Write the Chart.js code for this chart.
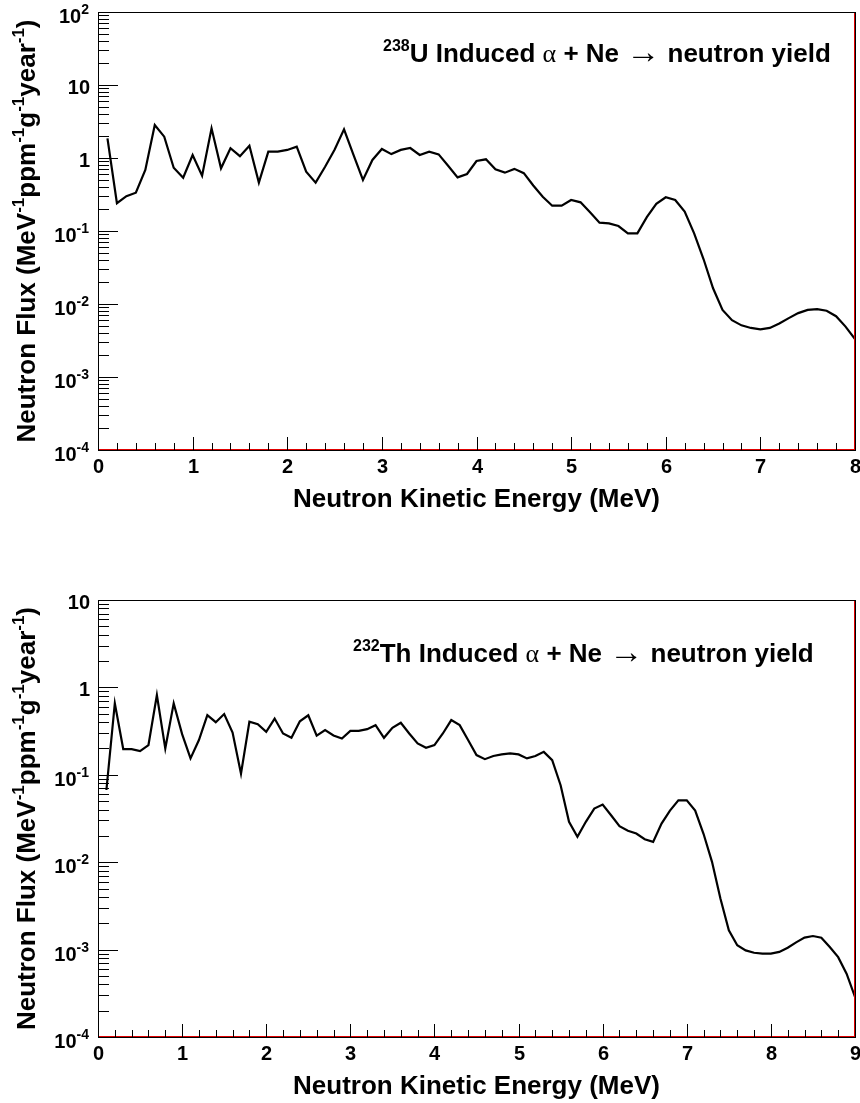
<!DOCTYPE html>
<html>
<head>
<meta charset="utf-8">
<title>Neutron yield spectra</title>
<script src="https://cdn.jsdelivr.net/npm/chart.js@4.4.0/dist/chart.umd.min.js"></script>
<style>
  html, body { margin: 0; padding: 0; background: #fff; }
  .pane { position: absolute; left: 0; width: 860px; }
  #u-pane { top: 0; height: 560px; }
  #th-pane { top: 560px; height: 543px; }
</style>
</head>
<body>
<div class="pane" id="u-pane"><canvas id="u-chart"></canvas></div>
<div class="pane" id="th-pane"><canvas id="th-chart"></canvas></div>
<script>
// 238U spectrum, bin centres in MeV and flux per MeV per ppm per g per year
const energyU = [
  0.1, 0.2, 0.3, 0.4, 0.5, 0.6, 0.7, 0.8, 0.9, 1.0,
  1.1, 1.2, 1.3, 1.4, 1.5, 1.6, 1.7, 1.8, 1.9, 2.0,
  2.1, 2.2, 2.3, 2.4, 2.5, 2.6, 2.7, 2.8, 2.9, 3.0,
  3.1, 3.2, 3.3, 3.4, 3.5, 3.6, 3.7, 3.8, 3.9, 4.0,
  4.1, 4.2, 4.3, 4.4, 4.5, 4.6, 4.7, 4.8, 4.9, 5.0,
  5.1, 5.2, 5.3, 5.4, 5.5, 5.6, 5.7, 5.8, 5.9, 6.0,
  6.1, 6.2, 6.3, 6.4, 6.5, 6.6, 6.7, 6.8, 6.9, 7.0,
  7.1, 7.2, 7.3, 7.4, 7.5, 7.6, 7.7, 7.8, 7.9, 8.0
];
const fluxU = [
  1.86, 0.24, 0.30, 0.335, 0.685, 2.83, 1.96, 0.736, 0.537, 1.10,
  0.573, 2.55, 0.722, 1.36, 1.06, 1.47, 0.46, 1.22, 1.22, 1.29,
  1.43, 0.65, 0.46, 0.76, 1.30, 2.47, 1.10, 0.50, 0.94, 1.33,
  1.13, 1.29, 1.37, 1.10, 1.22, 1.12, 0.785, 0.543, 0.604, 0.91,
  0.96, 0.70, 0.63, 0.71, 0.62, 0.42, 0.295, 0.222, 0.222, 0.266,
  0.247, 0.18, 0.13, 0.127, 0.117, 0.093, 0.093, 0.155, 0.235, 0.29,
  0.266, 0.184, 0.093, 0.041, 0.0164, 0.0083, 0.0060, 0.0051, 0.0047, 0.0045,
  0.0047, 0.0054, 0.0064, 0.0075, 0.0083, 0.0085, 0.0081, 0.0068, 0.0049, 0.0033
];

// 232Th spectrum
const energyTh = [
  0.1, 0.2, 0.3, 0.4, 0.5, 0.6, 0.7, 0.8, 0.9, 1.0,
  1.1, 1.2, 1.3, 1.4, 1.5, 1.6, 1.7, 1.8, 1.9, 2.0,
  2.1, 2.2, 2.3, 2.4, 2.5, 2.6, 2.7, 2.8, 2.9, 3.0,
  3.1, 3.2, 3.3, 3.4, 3.5, 3.6, 3.7, 3.8, 3.9, 4.0,
  4.1, 4.2, 4.3, 4.4, 4.5, 4.6, 4.7, 4.8, 4.9, 5.0,
  5.1, 5.2, 5.3, 5.4, 5.5, 5.6, 5.7, 5.8, 5.9, 6.0,
  6.1, 6.2, 6.3, 6.4, 6.5, 6.6, 6.7, 6.8, 6.9, 7.0,
  7.1, 7.2, 7.3, 7.4, 7.5, 7.6, 7.7, 7.8, 7.9, 8.0,
  8.1, 8.2, 8.3, 8.4, 8.5, 8.6, 8.7, 8.8, 8.9, 9.0
];
const fluxTh = [
  0.067, 0.656, 0.197, 0.197, 0.187, 0.219, 0.817, 0.20, 0.656, 0.292,
  0.154, 0.25, 0.482, 0.40, 0.496, 0.305, 0.103, 0.405, 0.38, 0.31,
  0.44, 0.297, 0.265, 0.41, 0.48, 0.28, 0.324, 0.282, 0.26, 0.318,
  0.318, 0.333, 0.37, 0.265, 0.345, 0.394, 0.297, 0.229, 0.204, 0.219,
  0.297, 0.423, 0.37, 0.25, 0.168, 0.151, 0.164, 0.171, 0.176, 0.171,
  0.154, 0.164, 0.183, 0.147, 0.076, 0.029, 0.0195, 0.029, 0.0411, 0.0457,
  0.0345, 0.0258, 0.0229, 0.0213, 0.0183, 0.0171, 0.0277, 0.039, 0.051, 0.051,
  0.039, 0.021, 0.0101, 0.00384, 0.00166, 0.00112, 0.00098, 0.00092, 0.0009, 0.0009,
  0.00094, 0.00105, 0.00121, 0.00137, 0.00143, 0.00137, 0.00107, 0.00082, 0.00053, 0.000287
];

// axis labels
const xTicksU = [0, 1, 2, 3, 4, 5, 6, 7, 8];
const xTicksTh = [0, 1, 2, 3, 4, 5, 6, 7, 8, 9];
const decadesU = [-4, -3, -2, -1, 0, 1, 2];
const decadesTh = [-4, -3, -2, -1, 0, 1];

const xTitle = 'Neutron Kinetic Energy (MeV)';
const yTitle = [['Neutron Flux (MeV', 'n'], ['-1', 's'], ['ppm', 'n'], ['-1', 's'],
                ['g', 'n'], ['-1', 's'], ['year', 'n'], ['-1', 's'], [')', 'n']];
const reaction = [[' Induced ', 'n'], ['\u03b1', 'g'], [' + Ne ', 'n'], ['\u2192', 'a'], [' neutron yield', 'n']];

const FONT = "'Liberation Sans', Arial, Helvetica, sans-serif";
const SYMFONT = "'Liberation Serif', 'DejaVu Serif', serif";

function pieceFont(kind, size, supRatio) {
  if (kind === 's') return `bold ${Math.round(size * supRatio)}px ${FONT}`;
  if (kind === 'g') return `${size}px ${SYMFONT}`;
  if (kind === 'a') return `${Math.round(size * 1.3)}px ${SYMFONT}`;
  return `bold ${size}px ${FONT}`;
}

// text with superscripts, drawn left to right from x (or ending at x)
function drawRun(ctx, pieces, x, y, size, align, supRatio = 0.62) {
  let total = 0;
  const widths = pieces.map(([t, k]) => {
    ctx.font = pieceFont(k, size, supRatio);
    const w = ctx.measureText(t).width;
    total += w;
    return w;
  });
  let cx = x;
  if (align === 'right') cx = x - total;
  if (align === 'center') cx = x - total / 2;
  ctx.textAlign = 'left';
  ctx.textBaseline = 'alphabetic';
  pieces.forEach(([t, k], i) => {
    ctx.font = pieceFont(k, size, supRatio);
    ctx.fillText(t, cx, k === 's' ? y - size * 0.42 : (k === 'a' ? y + size * 0.03 : y));
    cx += widths[i];
  });
}

function line(ctx, x1, y1, x2, y2) {
  ctx.beginPath();
  ctx.moveTo(x1, y1);
  ctx.lineTo(x2, y2);
  ctx.stroke();
}

// ROOT-style frame: inward ticks, red histogram edges, titles
const rootFrame = {
  id: 'rootFrame',
  afterDatasetsDraw(chart, args, opts) {
    const { ctx, chartArea: a, scales: { x, y } } = chart;
    ctx.save();
    ctx.fillStyle = '#000';
    ctx.strokeStyle = '#000';
    ctx.lineWidth = 1;

    // frame
    line(ctx, a.left + 0.5, a.top, a.left + 0.5, a.bottom + 1);
    line(ctx, a.left, a.top + 0.5, a.right + 1, a.top + 0.5);
    line(ctx, a.left, a.bottom + 0.5, a.right + 1, a.bottom + 0.5);
    line(ctx, a.right + 0.5, a.top, a.right + 0.5, a.bottom + 1);
    ctx.strokeStyle = '#e00000';
    line(ctx, a.left + 1, a.bottom - 0.5, a.right, a.bottom - 0.5);
    line(ctx, a.right - 0.5, a.top + 1, a.right - 0.5, a.bottom);
    ctx.strokeStyle = '#000';

    // x ticks: majors at each label, four minors in between
    opts.xTicks.forEach((v, i) => {
      const px = Math.round(x.getPixelForValue(v)) + 0.5;
      if (i > 0 && i < opts.xTicks.length - 1) line(ctx, px, a.bottom, px, a.bottom - 13);
      drawRun(ctx, [[String(v), 'n']], px, a.bottom + 23, 20, 'center');
      if (i < opts.xTicks.length - 1) {
        const step = (opts.xTicks[i + 1] - v) / 5;
        for (let k = 1; k < 5; k++) {
          const mx = Math.round(x.getPixelForValue(v + k * step)) + 0.5;
          line(ctx, mx, a.bottom, mx, a.bottom - 7);
        }
      }
    });

    // y ticks: decades with 2..9 minors
    opts.decades.forEach((d, i) => {
      const v = Math.pow(10, d);
      const py = Math.round(y.getPixelForValue(v)) + 0.5;
      line(ctx, a.left, py, a.left + 20, py);
      if (d === 0 || d === 1) {
        drawRun(ctx, [[d === 0 ? '1' : '10', 'n']], a.left - 8, py + 8, 20, 'right');
      } else {
        drawRun(ctx, [['10', 'n'], [String(d), 's']], a.left - 9, py + 10, 20, 'right', 0.68);
      }
      if (i < opts.decades.length - 1) {
        for (let k = 2; k < 10; k++) {
          const my = Math.round(y.getPixelForValue(k * v)) + 0.5;
          line(ctx, a.left, my, a.left + 11, my);
        }
      }
    });

    // axis titles
    drawRun(ctx, [[xTitle, 'n']], (a.left + a.right) / 2, a.bottom + 57, 26, 'center');
    ctx.save();
    ctx.translate(35, (a.top + a.bottom) / 2);
    ctx.rotate(-Math.PI / 2);
    drawRun(ctx, yTitle, 0, 0, 26, 'center', 0.66);
    ctx.restore();

    // reaction label inside the frame
    drawRun(ctx, [[opts.isotope[0], 's'], [opts.isotope[1], 'n']].concat(reaction),
            opts.labelX, a.top + opts.labelDy, 26, 'left');
    ctx.restore();
  }
};

function makeChart(id, energy, flux, xMax, yMin, yMax, padding, frame) {
  const points = energy.map((e, i) => ({ x: e, y: flux[i] }));
  return new Chart(document.getElementById(id).getContext('2d'), {
    type: 'line',
    data: {
      datasets: [{
        data: points,
        borderColor: '#000',
        borderWidth: 2.2,
        pointRadius: 0,
        tension: 0,
        fill: false
      }]
    },
    options: {
      responsive: true,
      maintainAspectRatio: false,
      animation: false,
      layout: { padding: padding },
      plugins: {
        legend: { display: false },
        tooltip: { enabled: false },
        rootFrame: frame
      },
      scales: {
        x: { type: 'linear', min: 0, max: xMax, display: false },
        y: { type: 'logarithmic', min: yMin, max: yMax, display: false }
      }
    },
    plugins: [rootFrame]
  });
}

makeChart('u-chart', energyU, fluxU, 8, 1e-4, 1e2,
  { left: 98, top: 12, right: 5, bottom: 110 },
  { xTicks: xTicksU, decades: decadesU, isotope: ['238', 'U'], labelX: 383, labelDy: 50 });

makeChart('th-chart', energyTh, fluxTh, 9, 1e-4, 1e1,
  { left: 98, top: 40, right: 5, bottom: 66 },
  { xTicks: xTicksTh, decades: decadesTh, isotope: ['232', 'Th'], labelX: 353, labelDy: 62 });
</script>
</body>
</html>
